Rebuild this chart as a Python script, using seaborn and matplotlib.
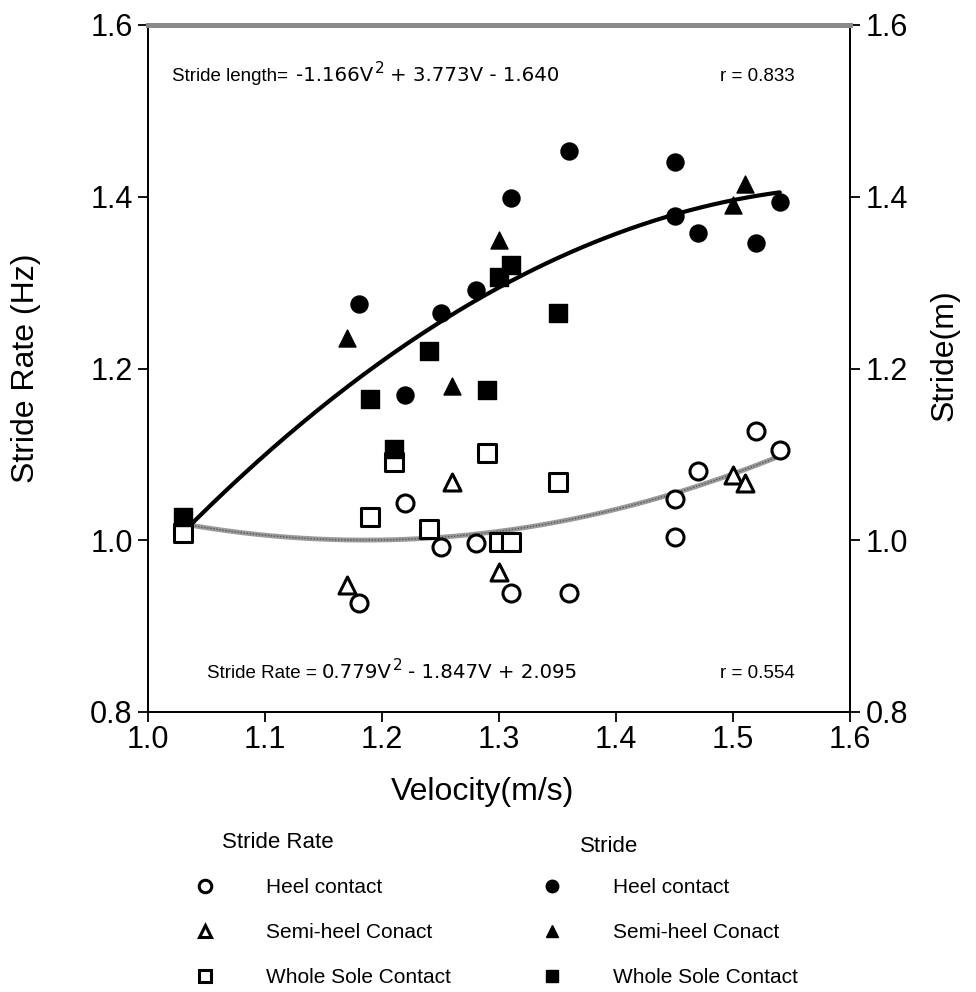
import numpy as np
import pandas as pd
import matplotlib
matplotlib.use("Agg")
import matplotlib.pyplot as plt
from matplotlib.lines import Line2D
import seaborn as sns

# data (velocity m/s, value)
sr_heel_v = [1.18, 1.22, 1.25, 1.28, 1.31, 1.36, 1.45, 1.45, 1.47, 1.52, 1.54]
sr_heel_y = [0.927, 1.043, 0.992, 0.997, 0.939, 0.939, 1.048, 1.004, 1.081, 1.127, 1.105]
sr_semi_v = [1.17, 1.26, 1.30, 1.50, 1.51]
sr_semi_y = [0.948, 1.068, 0.963, 1.076, 1.067]
sr_sole_v = [1.03, 1.19, 1.21, 1.24, 1.29, 1.30, 1.31, 1.35]
sr_sole_y = [1.008, 1.027, 1.091, 1.013, 1.102, 0.998, 0.998, 1.068]

st_heel_v = [1.18, 1.22, 1.25, 1.28, 1.31, 1.36, 1.45, 1.45, 1.47, 1.52, 1.54]
st_heel_y = [1.275, 1.169, 1.265, 1.291, 1.399, 1.453, 1.440, 1.378, 1.358, 1.346, 1.394]
st_semi_v = [1.17, 1.26, 1.30, 1.50, 1.51]
st_semi_y = [1.235, 1.180, 1.350, 1.390, 1.415]
st_sole_v = [1.03, 1.19, 1.21, 1.24, 1.29, 1.30, 1.31, 1.35]
st_sole_y = [1.027, 1.165, 1.106, 1.220, 1.175, 1.307, 1.320, 1.265]

# regression coefficients printed on the chart
stride_coef = [-1.166, 3.773, -1.640]
rate_coef = [0.779, -1.847, 2.095]
v_range = [1.03, 1.54]

ticks = [0.8, 1.0, 1.2, 1.4, 1.6]
xticks = [1.0, 1.1, 1.2, 1.3, 1.4, 1.5, 1.6]

sns.set_style("ticks")
plt.rcParams['font.family'] = ['Liberation Sans', 'DejaVu Sans']
plt.rcParams.update({"text.color": "black", "axes.labelcolor": "black",
                     "xtick.color": "black", "ytick.color": "black"})

fig = plt.figure(figsize=(9.76, 9.92), dpi=100)
ax = fig.add_axes([148 / 976, 1 - 712 / 992, 702 / 976, 687 / 992])

vv = np.linspace(v_range[0], v_range[1], 200)
curves = pd.DataFrame({"v": vv,
                       "stride": np.polyval(stride_coef, vv),
                       "rate": np.polyval(rate_coef, vv)})
sns.lineplot(data=curves, x="v", y="rate", color="#9a9a9a", lw=3.5, ax=ax, zorder=2)
sns.lineplot(data=curves, x="v", y="rate", color="#555555", lw=1.0,
             linestyle=(0, (1, 1.2)), ax=ax, zorder=2)
sns.lineplot(data=curves, x="v", y="stride", color="black", lw=3, ax=ax, zorder=2)

ms = 150
open_kw = dict(color="white", edgecolor="black", linewidth=2.2, s=ms, ax=ax, zorder=3)
fill_kw = dict(color="black", edgecolor="black", linewidth=1, s=ms, ax=ax, zorder=3)
sns.scatterplot(x=sr_heel_v, y=sr_heel_y, marker="o", **open_kw)
sns.scatterplot(x=sr_semi_v, y=sr_semi_y, marker="^", **open_kw)
sns.scatterplot(x=sr_sole_v, y=sr_sole_y, marker="s", **open_kw)
sns.scatterplot(x=st_heel_v, y=st_heel_y, marker="o", **fill_kw)
sns.scatterplot(x=st_semi_v, y=st_semi_y, marker="^", **fill_kw)
sns.scatterplot(x=st_sole_v, y=st_sole_y, marker="s", **fill_kw)

ax.set_xlim(1.0, 1.6)
ax.set_ylim(0.8, 1.6)
ax.set_xticks(xticks)
ax.set_yticks(ticks)
ax.set_xticklabels([f"{t:.1f}" for t in xticks])
ax.set_yticklabels([f"{t:.1f}" for t in ticks])
ax.tick_params(axis="both", labelsize=22, length=7, width=1.3, direction="out")
ax.tick_params(axis="x", pad=2)
ax.tick_params(axis="y", pad=4)
ax.set_xlabel("Velocity(m/s)", fontsize=23)
ax.set_ylabel("Stride Rate (Hz)", fontsize=23)
ax.xaxis.set_label_coords(0.477, -0.094)
ax.yaxis.set_label_coords(-0.152, 0.5)

ax2 = ax.twinx()
ax2.set_ylim(0.8, 1.6)
ax2.set_yticks(ticks)
ax2.set_yticklabels([f"{t:.1f}" for t in ticks])
ax2.tick_params(axis="y", labelsize=22, length=7, width=1.3, direction="out", pad=4)
ax2.set_ylabel("Stride(m)", fontsize=23)
ax2.yaxis.set_label_coords(1.114, 0.52)

for a in (ax, ax2):
    for side in ("left", "right", "bottom"):
        a.spines[side].set_visible(True)
        a.spines[side].set_color("black")
        a.spines[side].set_linewidth(1.3)
    a.spines["top"].set_visible(True)
    a.spines["top"].set_color("#8a8a8a")
    a.spines["top"].set_linewidth(3.5)


def equation(x0, y0, pieces):
    # pieces: (text, fontsize, family, gap in points, raised superscript?)
    prev = None
    for txt, fs, fam, gap, sup in pieces:
        yy = y0 + (0.012 if sup else 0)
        if prev is None:
            prev = ax.text(x0, yy, txt, fontsize=fs, family=fam, va="baseline",
                           transform=ax.transAxes)
        else:
            prev = ax.annotate(txt, xy=(1, yy), xycoords=(prev, ax.transAxes),
                               xytext=(gap, 0), textcoords="offset points",
                               fontsize=fs, family=fam, va="baseline")


num_fs = 14.2
equation(0.034, 0.9185, [("Stride length=", 13.5, "Liberation Sans", 0, False),
                         ("-1.166V", num_fs, "DejaVu Sans", 6, False),
                         ("2", 11, "DejaVu Sans", 1, True),
                         ("+ 3.773V - 1.640", num_fs, "DejaVu Sans", 4, False)])
equation(0.084, 0.0495, [("Stride Rate = ", 13.5, "Liberation Sans", 0, False),
                         ("0.779V", num_fs, "DejaVu Sans", 0, False),
                         ("2", 11, "DejaVu Sans", 1, True),
                         ("- 1.847V + 2.095", num_fs, "DejaVu Sans", 4, False)])
ax.text(0.815, 0.9185, "r = 0.833", fontsize=13.5, va="baseline", transform=ax.transAxes)
ax.text(0.815, 0.0495, "r = 0.554", fontsize=13.5, va="baseline", transform=ax.transAxes)

# legends below the axes
labels = ["Heel contact", "Semi-heel Conact", "Whole Sole Contact"]
mk = ["o", "^", "s"]
h_open = [Line2D([], [], ls="", marker=m, mfc="white", mec="black", mew=2.2, ms=9) for m in mk]
h_fill = [Line2D([], [], ls="", marker=m, mfc="black", mec="black", ms=9) for m in mk]
leg_kw = dict(loc="upper left", frameon=False, fontsize=15, handlelength=1.0,
              handletextpad=2.4, labelspacing=1.25, borderpad=0, borderaxespad=0)
fig.legend(h_open, labels, bbox_to_anchor=(195 / 976, 1 - 878 / 992), **leg_kw)
fig.legend(h_fill, labels, bbox_to_anchor=(542 / 976, 1 - 878 / 992), **leg_kw)
fig.text(222 / 976, 1 - 843 / 992, "Stride Rate", fontsize=16, va="center")
fig.text(580 / 976, 1 - 847 / 992, "Stride", fontsize=16, va="center")

fig.savefig("out.png", dpi=100)
